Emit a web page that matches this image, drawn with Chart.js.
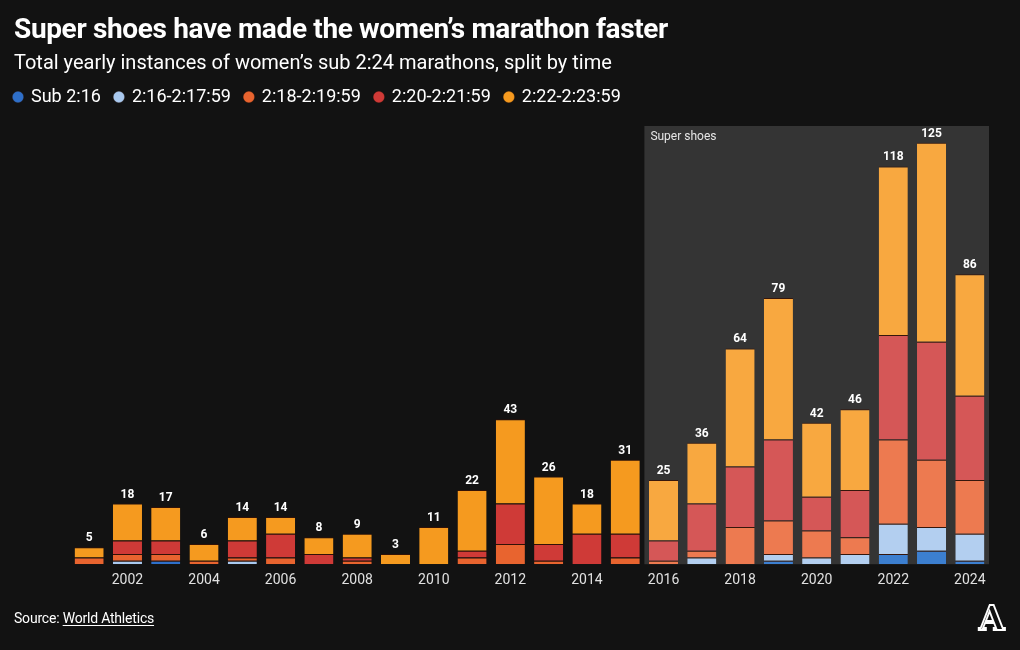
<!DOCTYPE html>
<html><head><meta charset="utf-8">
<script src="https://cdn.jsdelivr.net/npm/chart.js@4/dist/chart.umd.min.js"></script>
<style>
html,body{margin:0;padding:0;background:#121212;width:1020px;height:650px;overflow:hidden;}
#c{position:absolute;left:0;top:0;}
.t{position:absolute;white-space:nowrap;color:#fff;font-family:Roboto,"Liberation Sans",sans-serif;}
#title{left:14px;top:12px;font-weight:700;font-size:28px;letter-spacing:-0.35px;}
#sub{left:14px;top:50px;font-size:20px;letter-spacing:0px;}
#src{left:14px;top:610px;font-size:14px;letter-spacing:-0.2px;}
#src u{text-underline-offset:2px;}
#logo{left:979px;top:599px;font-family:"DejaVu Serif",serif;font-weight:700;font-size:33px;color:#121212;-webkit-text-stroke:1.8px #fff;}
</style></head>
<body>
<canvas id="c" width="1020" height="650"></canvas>
<div class="t" id="title">Super shoes have made the women’s marathon faster</div>
<div class="t" id="sub">Total yearly instances of women’s sub 2:24 marathons, split by time</div>
<div class="t" id="src">Source: <u>World Athletics</u></div>
<div class="t" id="logo">A</div>
<script>
const years = [2001,2002,2003,2004,2005,2006,2007,2008,2009,2010,2011,2012,2013,2014,2015,2016,2017,2018,2019,2020,2021,2022,2023,2024];
const seriesNames = ['Sub 2:16','2:16-2:17:59','2:18-2:19:59','2:20-2:21:59','2:22-2:23:59'];
const sub216   = [0,0,1,0,0,0,0,0,0,0,0,0,0,0,0,0,0,0,1,0,0,3,4,1];
const t216_218 = [0,1,0,0,1,0,0,0,0,0,0,0,0,0,0,0,2,0,2,2,3,9,7,8];
const t218_220 = [2,2,2,1,1,2,0,1,0,0,2,6,1,0,2,1,2,11,10,8,5,25,20,16];
const t220_222 = [0,4,4,0,5,7,3,1,0,0,2,12,5,9,7,6,14,18,24,10,14,31,35,25];
const t222_224 = [3,11,10,5,7,5,5,7,3,11,18,25,20,9,22,18,18,35,42,22,24,50,59,36];
const superShoesFromYear = 2016;

const darkCols  = ['#2e6fc9','#a9c9ef','#e8642f','#cf3a37','#f59a1f'];
const lightCols = ['#3c7fd0','#b3cff0','#ed7a50','#d55757','#f8a840'];
const superIdx = years.indexOf(superShoesFromYear);
const allSeries = [sub216,t216_218,t218_220,t220_222,t222_224];

const datasets = allSeries.map((d,k)=>({
  label: seriesNames[k],
  data: d,
  backgroundColor: c => (c.dataIndex >= superIdx ? lightCols[k] : darkCols[k]),
  borderColor: 'rgba(55,18,5,0.85)',
  borderWidth: {top:1,left:0,right:0,bottom:0},
  borderSkipped: false,
  barPercentage: 0.76,
  categoryPercentage: 1
}));

const totals = years.map((_,i)=>allSeries.reduce((s,a)=>s+a[i],0));

const legendGap = {
  id:'legendGap',
  beforeLayout(chart){
    const lg = chart.legend;
    if (lg && !lg._gapPatched){
      const f = lg.fit;
      lg.fit = function(){ f.call(this); this.height += 10; };
      lg._gapPatched = true;
    }
  }
};

const bgPlugin = {
  id:'superShoes',
  beforeDatasetsDraw(chart){
    const {ctx, chartArea, scales:{x}} = chart;
    const step = x.getPixelForValue(1) - x.getPixelForValue(0);
    const left = x.getPixelForValue(superIdx) - step/2;
    ctx.save();
    ctx.fillStyle = '#343434';
    ctx.fillRect(left, chartArea.top, chartArea.right - left, chartArea.bottom - chartArea.top);
    ctx.fillStyle = '#e6e6e6';
    ctx.font = '12px Roboto';
    ctx.textBaseline = 'middle';
    ctx.fillText('Super shoes', left + 6, chartArea.top + 11);
    ctx.restore();
  },
  afterDatasetsDraw(chart){
    const {ctx, scales:{x,y}} = chart;
    ctx.save();
    ctx.fillStyle = '#fff';
    ctx.font = 'bold 12px Roboto';
    ctx.textAlign = 'center';
    ctx.textBaseline = 'alphabetic';
    totals.forEach((t,i)=>{
      ctx.fillText(String(t), x.getPixelForValue(i), y.getPixelForValue(t) - 6);
    });
    ctx.restore();
  }
};

new Chart(document.getElementById('c'), {
  type:'bar',
  data:{labels: years.map(String), datasets},
  plugins:[legendGap, bgPlugin],
  options:{
    responsive:false,
    animation:false,
    layout:{padding:{left:0,right:31,top:74,bottom:61}},
    plugins:{
      legend:{position:'top',align:'start',
        labels:{color:'#fff',font:{family:'Roboto',size:18},usePointStyle:true,pointStyle:'circle',boxWidth:8,boxHeight:8,padding:14}},
      tooltip:{enabled:false}
    },
    scales:{
      x:{stacked:true,grid:{display:false},border:{display:false},
         ticks:{color:'#e0e0e0',font:{family:'Roboto',size:14},autoSkip:false,maxRotation:0,padding:0,
           callback:(v,i)=> (years[i]%2===0 ? String(years[i]) : '')}},
      y:{stacked:true,min:0,max:130,grid:{display:false},border:{display:false},
         ticks:{display:false},afterFit:s=>{s.width=70;}}
    }
  }
});
</script>
</body></html>
